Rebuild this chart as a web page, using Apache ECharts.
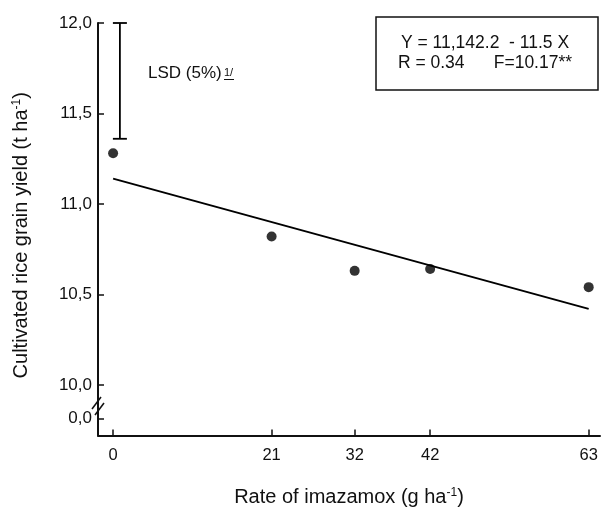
<!DOCTYPE html>
<html>
<head>
<meta charset="utf-8">
<script src="https://cdn.jsdelivr.net/npm/echarts@6/dist/echarts.min.js"></script>
<style>
  html, body { margin: 0; padding: 0; background: #fff; }
  #chart { width: 605px; height: 512px; }
</style>
</head>
<body>
<div id="chart"></div>
<script>
// observed means (t ha-1) per imazamox rate
const rates = [0, 21, 32, 42, 63]
const yields = [11.28, 10.82, 10.63, 10.64, 10.54]

// fitted line end points (Y = 11,142.2 - 11.5 X, in kg)
const fitX = [0, 63]
const fitY = [11.14, 10.42]

// LSD (5%) bar drawn next to the y axis
const lsdX = 0.9
const lsdRange = [11.36, 12.0]

// y axis is broken between 0 and 10, the "0,0" tick sits just below 10
const yTickValues = [9.813, 10, 10.5, 11, 11.5, 12]
const yTickLabels = ['0,0', '10,0', '10,5', '11,0', '11,5', '12,0']
const xTickValues = [0, 21, 32, 42, 63]

const font = 'Liberation Sans, Arial, sans-serif'
const ink = '#111'

const chart = echarts.init(document.getElementById('chart'))

const titleStyle = {
    fontSize: 20,
    color: ink,
    fontFamily: font,
    rich: { sup: { fontSize: 12, verticalAlign: 'top', padding: [0, 0, 9, 0], fontFamily: font, color: ink } }
}

chart.setOption({
    backgroundColor: '#fff',
    animation: false,
    textStyle: { fontFamily: font, color: ink },
    grid: { left: 98, right: 5, top: 23, bottom: 74 },
    xAxis: {
        type: 'value',
        min: -2,
        max: 64.5,
        name: 'Rate of imazamox (g ha{sup|-1})',
        nameLocation: 'middle',
        nameGap: 51,
        nameTextStyle: titleStyle,
        splitLine: { show: false },
        axisLine: { onZero: false, lineStyle: { color: ink, width: 2 } },
        axisTick: { inside: true, length: 6, customValues: xTickValues, lineStyle: { color: ink, width: 1.5 } },
        axisLabel: { customValues: xTickValues, fontSize: 16.5, color: ink, margin: 11, fontFamily: font }
    },
    yAxis: {
        type: 'value',
        min: 9.72,
        max: 12.0,
        name: 'Cultivated rice grain yield (t ha{sup|-1})',
        nameLocation: 'middle',
        nameGap: 66,
        nameTextStyle: Object.assign({}, titleStyle, { padding: [0, 12, 0, 0] }),
        splitLine: { show: false },
        axisLine: { show: true, onZero: false, lineStyle: { color: ink, width: 2 } },
        axisTick: { show: true, inside: true, length: 6, customValues: yTickValues, lineStyle: { color: ink, width: 1.5 } },
        axisLabel: {
            customValues: yTickValues,
            fontSize: 17,
            color: ink,
            margin: 6,
            fontFamily: font,
            formatter: function (v) {
                let i = yTickValues.findIndex(t => Math.abs(t - v) < 1e-6)
                return i >= 0 ? yTickLabels[i] : ''
            }
        }
    },
    graphic: [
        // regression box
        {
            type: 'rect',
            shape: { x: 376, y: 17, width: 222, height: 73 },
            style: { fill: '#fff', stroke: ink, lineWidth: 1.5 }
        },
        {
            type: 'text',
            x: 485, y: 43,
            style: { text: 'Y = 11,142.2  - 11.5 X', fontSize: 17.5, fontFamily: font, fill: ink, align: 'center', verticalAlign: 'middle' }
        },
        {
            type: 'text',
            x: 485, y: 63,
            style: { text: 'R = 0.34      F=10.17**', fontSize: 17.5, fontFamily: font, fill: ink, align: 'center', verticalAlign: 'middle' }
        },
        // LSD label
        {
            type: 'text',
            x: 148, y: 73,
            style: { text: 'LSD (5%)', fontSize: 17, fontFamily: font, fill: ink, verticalAlign: 'middle' }
        },
        {
            type: 'text',
            x: 224, y: 78,
            style: { text: '1/', fontSize: 11, fontFamily: font, fill: ink, verticalAlign: 'bottom' }
        },
        {
            type: 'line',
            shape: { x1: 224, y1: 79.5, x2: 234, y2: 79.5 },
            style: { stroke: ink, lineWidth: 1 }
        },
        // axis break marks
        {
            type: 'polygon',
            shape: { points: [[92, 409], [100, 398], [105, 402], [97, 413]] },
            style: { fill: '#fff' }
        },
        {
            type: 'line',
            shape: { x1: 92, y1: 409, x2: 101, y2: 397 },
            style: { stroke: ink, lineWidth: 1.5 }
        },
        {
            type: 'line',
            shape: { x1: 95, y1: 415, x2: 104, y2: 403 },
            style: { stroke: ink, lineWidth: 1.5 }
        }
    ],
    series: [
        {
            name: 'observed',
            type: 'scatter',
            symbol: 'circle',
            symbolSize: 10,
            itemStyle: { color: '#000' },
            data: rates.map((x, i) => [x, yields[i]]),
            z: 3
        },
        {
            name: 'fit',
            type: 'line',
            symbol: 'none',
            lineStyle: { color: '#000', width: 2 },
            data: fitX.map((x, i) => [x, fitY[i]]),
            z: 2
        },
        {
            name: 'lsd',
            type: 'custom',
            data: [[lsdX, lsdRange[0], lsdRange[1]]],
            renderItem: function (params, api) {
                const lo = api.coord([api.value(0), api.value(1)])
                const hi = api.coord([api.value(0), api.value(2)])
                const w = 7
                const style = { stroke: '#000', lineWidth: 1.8 }
                return {
                    type: 'group',
                    children: [
                        { type: 'line', shape: { x1: lo[0], y1: lo[1], x2: hi[0], y2: hi[1] }, style: style },
                        { type: 'line', shape: { x1: lo[0] - w, y1: lo[1], x2: lo[0] + w, y2: lo[1] }, style: style },
                        { type: 'line', shape: { x1: hi[0] - w, y1: hi[1], x2: hi[0] + w, y2: hi[1] }, style: style }
                    ]
                }
            }
        }
    ]
})
</script>
</body>
</html>
